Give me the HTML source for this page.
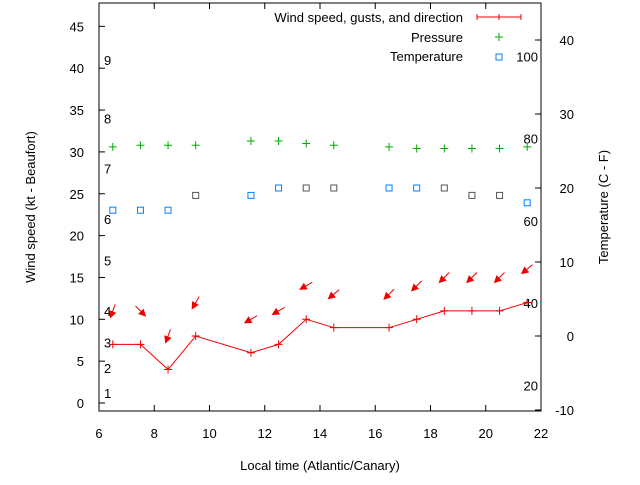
<!DOCTYPE html>
<html><head><meta charset="utf-8"><style>
body{margin:0;background:#fff;}
svg{font-family:"Liberation Sans",sans-serif;font-size:13px;}
</style></head><body>
<svg id="c" width="640" height="480" xmlns="http://www.w3.org/2000/svg">
<rect x="99" y="3" width="442" height="408" fill="none" stroke="#000"/>
<g id="ax"></g><g id="marks"></g>
<text x="35" y="207" transform="rotate(-90 35 207)" text-anchor="middle">Wind speed (kt - Beaufort)</text>
<text x="608" y="207" transform="rotate(-90 608 207)" text-anchor="middle">Temperature (C - F)</text>
<text x="320" y="470" text-anchor="middle">Local time (Atlantic/Canary)</text>
<g>
<text x="463" y="22" text-anchor="end">Wind speed, gusts, and direction</text>
<path d="M477 17H521M477 14V20M499 14V20M521 14V20" stroke="#e00"/>
<text x="463" y="42" text-anchor="end">Pressure</text>
<path d="M495 37H503M499 33V41" stroke="#0a0"/>
<text x="463" y="61" text-anchor="end">Temperature</text>
<rect x="496" y="54" width="6" height="6" fill="none" stroke="#0080ff"/>
</g>
</svg>
<script>
const times=[6.5,7.5,8.5,9.5,11.5,12.5,13.5,14.5,16.5,17.5,18.5,19.5,20.5,21.5];
const wind=[7,7,4,8,6,7,10,9,9,10,11,11,11,12];
const arrowY=[11,11,8,12,10,11,14,13,13,14,15,15,15,16];
const windDir=[20,315,20,30,60,60,60,50,45,45,45,45,45,50];
const pressure=[30.6,30.8,30.8,30.8,31.3,31.3,31.0,30.8,30.6,30.4,30.4,30.4,30.4,30.6];
const temp=[17,17,17,19,19,20,20,20,20,20,20,19,19,18];
const tempGray=[0,0,0,1,0,0,1,1,0,0,1,1,1,0];
const xTicks=[6,8,10,12,14,16,18,20,22];
const yTicks=[0,5,10,15,20,25,30,35,40,45];
const y2Ticks=[-10,0,10,20,30,40];
const beaufort=[1,2,3,4,5,6,7,8,9];
const beaufortY=[1.2,4.2,7.2,11,17,22,28,34,41];
const fahr=[20,40,60,80,100];
const NS="http://www.w3.org/2000/svg";
const X=v=>99+(v-6)*27.625, Y=v=>403-v*8.37, Y2=v=>410-(v+10)*7.4;
const ax=document.getElementById('ax'), mk=document.getElementById('marks');
function el(t,a,p){const e=document.createElementNS(NS,t);for(const k in a)e.setAttribute(k,a[k]);p.appendChild(e);return e;}
xTicks.forEach(v=>{const x=X(v);
 const l=el('path',{d:`M${x} 411v-6M${x} 3v6`,stroke:'#000'},ax);
 
 
 const t=el('text',{x:x,y:438,'text-anchor':'middle'},ax);t.textContent=v;
 
 });
yTicks.forEach(v=>{const y=Y(v);
 const l=el('path',{d:`M99 ${y}h6`,stroke:'#000'},ax);
 
 
 const t=el('text',{x:84,y:y+5,'text-anchor':'end'},ax);t.textContent=v;
 
 });
y2Ticks.forEach(v=>{const y=Y2(v);
 const l=el('path',{d:`M541 ${y}h-6`,stroke:'#000'},ax);
 
 
 const t=el('text',{x:574,y:y+5,'text-anchor':'end'},ax);t.textContent=v;
 
 });
beaufort.forEach((b,i)=>{const t=el('text',{x:104,y:Y(beaufortY[i])+5},ax);t.textContent=b;
 
 });
fahr.forEach(f=>{const c=(f-32)*5/9;const t=el('text',{x:538,y:Y2(c)+5,'text-anchor':'end'},ax);t.textContent=f;
 
 });
const line=el('polyline',{points:times.map((t,i)=>X(t)+','+Y(wind[i])).join(' '),fill:'none',stroke:'#e00'},mk);


times.forEach((t,i)=>{const x=X(t),y=Y(wind[i]);
 const p=el('path',{d:`M${x-4} ${y}h8M${x} ${y-4}v8`,stroke:'#e00'},mk);
 
 
 const a=windDir[i]*Math.PI/180, cx=x, cy=Y(arrowY[i]);
 const dx=-Math.sin(a), dy=Math.cos(a);
 const tx=cx+dx*7, ty=cy+dy*7, fx=cx-dx*7, fy=cy-dy*7;
 const px=-dy, py=dx;
 const g=el('path',{d:`M${fx} ${fy}L${tx} ${ty}M${tx} ${ty}L${tx-dx*6+px*3} ${ty-dy*6+py*3}L${tx-dx*6-px*3} ${ty-dy*6-py*3}Z`,stroke:'#e00',fill:'#e00'},mk);
 
 
 const py2=Y(pressure[i]);
 const q=el('path',{d:`M${x-4} ${py2}h8M${x} ${py2-4}v8`,stroke:'#0a0'},mk);
 
 
 const ty2=Y2(temp[i]);
 const s=el('rect',{x:x-3,y:ty2-3,width:6,height:6,fill:'none',stroke:tempGray[i]?'#555':'#0080ff'},mk);
 
 
});
</script>
</body></html>
